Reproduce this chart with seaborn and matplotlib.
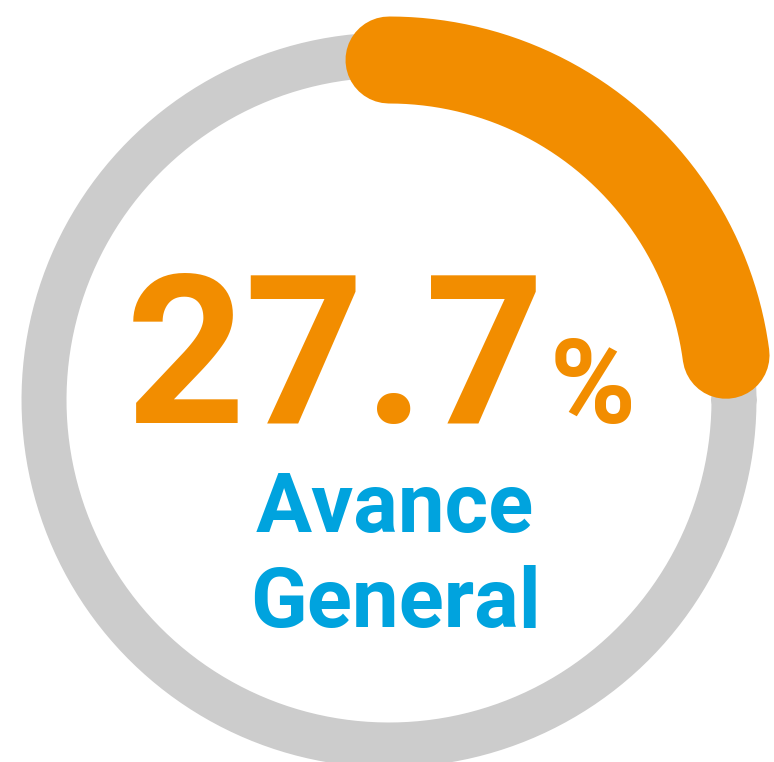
import numpy as np
import pandas as pd
import seaborn as sns
import matplotlib.pyplot as plt

# values
avance = 27.7          # label value (%)
arc_share = 0.229      # share of the ring covered by the orange arc, as drawn
label_lines = ["Avance", "General"]

orange = "#F28D00"
grey = "#CCCCCC"
blue = "#00A3DE"

sns.set_theme(style="white")
plt.rcParams['font.family'] = ['Roboto', 'DejaVu Sans']

fig = plt.figure(figsize=(7.74, 7.62), dpi=100)
ax = fig.add_axes([0, 0, 1, 1])

cx, cy = 389, 400
px = 72 / 100  # pixels -> points

# grey background ring
t = np.linspace(0, 2 * np.pi, 400)
ring = pd.DataFrame({"x": cx + 345 * np.cos(t), "y": cy + 345 * np.sin(t)})
sns.lineplot(data=ring, x="x", y="y", sort=False, estimator=None,
             color=grey, linewidth=45 * px, ax=ax)

# orange progress arc, clockwise from 12 o'clock
a = np.linspace(np.pi / 2, np.pi / 2 - 2 * np.pi * arc_share, 200)
arc = pd.DataFrame({"x": cx + 340 * np.cos(a), "y": cy - 340 * np.sin(a)})
sns.lineplot(data=arc, x="x", y="y", sort=False, estimator=None,
             color=orange, linewidth=87 * px, solid_capstyle="round", ax=ax)

ax.set_xlim(0, 774)
ax.set_ylim(762, 0)
ax.set_aspect("equal")
ax.axis("off")

ax.text(545, 423, f"{avance:.1f}", color=orange, fontsize=150,
        fontweight="bold", ha="right", va="baseline")
ax.text(550, 423, "%", color=orange, fontsize=84,
        fontweight="bold", ha="left", va="baseline")
ax.text(395, 532, label_lines[0], color=blue, fontsize=60,
        fontweight="bold", ha="center", va="baseline")
ax.text(396, 627, label_lines[1], color=blue, fontsize=60,
        fontweight="bold", ha="center", va="baseline")

fig.savefig("out.png", dpi=100, facecolor="white")
